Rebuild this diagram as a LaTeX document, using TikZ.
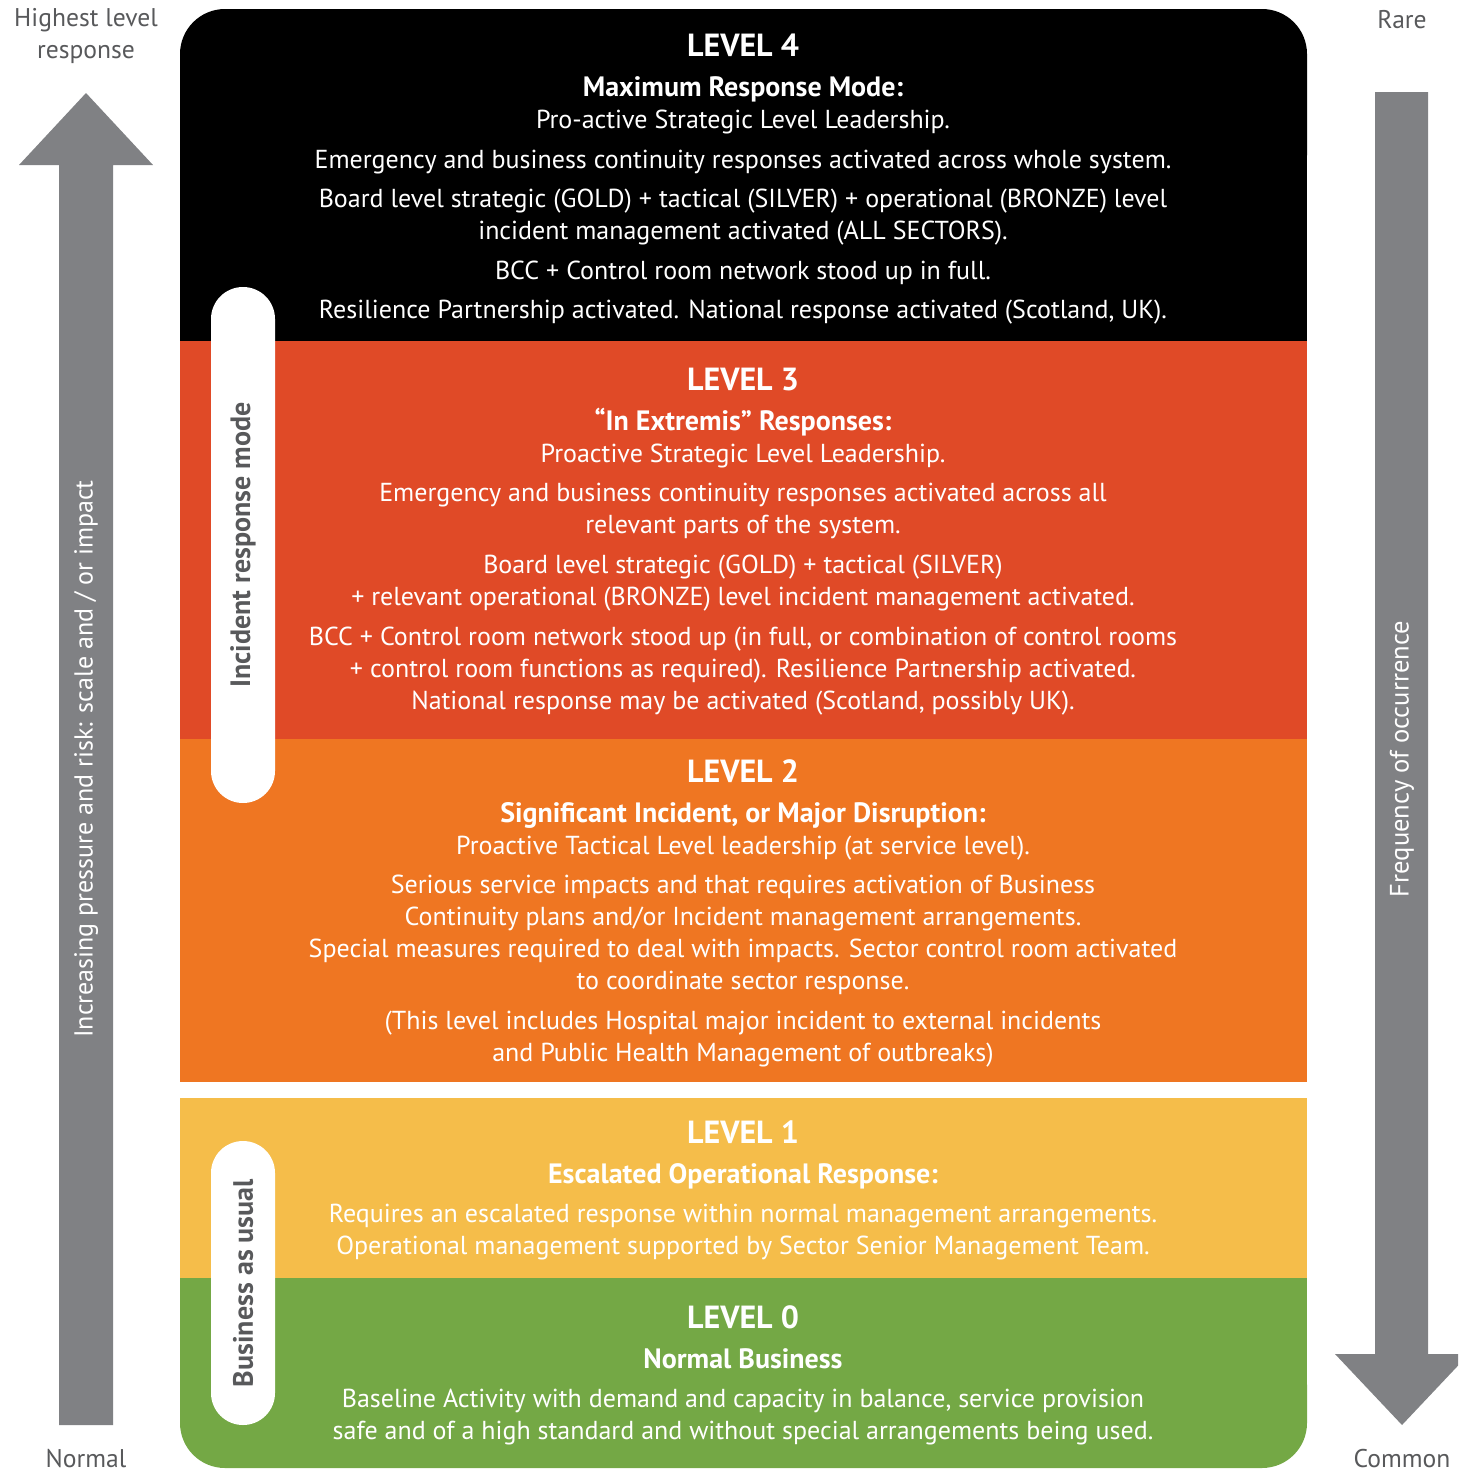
\documentclass[tikz,border=0pt]{standalone}
\usepackage{fontspec}
\setmainfont{PT Sans}
\definecolor{lvfour}{HTML}{000000}
\definecolor{lvthree}{HTML}{E04A27}
\definecolor{lvtwo}{HTML}{EF7622}
\definecolor{lvone}{HTML}{F5BD4A}
\definecolor{lvzero}{HTML}{74A845}
\definecolor{arrowgray}{HTML}{808184}
\definecolor{labelgray}{HTML}{58595B}
\begin{document}
\begin{tikzpicture}[x=0.5pt,y=-0.5pt,
  body/.style={anchor=base,inner sep=0pt,text=white,font=\fontsize{13}{15}\selectfont},
  head/.style={anchor=base,inner sep=0pt,text=white,font=\fontsize{16}{18}\selectfont\bfseries},
  sub/.style={anchor=base,inner sep=0pt,text=white,font=\fontsize{14}{16}\selectfont\bfseries},
  side/.style={inner sep=0pt,text=labelgray,font=\fontsize{12.8}{16}\selectfont,align=center},
  pill/.style={fill=white,rounded corners=16pt,minimum height=32pt,inner sep=0pt,text=labelgray,font=\fontsize{14}{16}\selectfont\bfseries},
  bigarrow/.style={fill=arrowgray}]
\useasboundingbox (0,0) rectangle (1458,1472);
% level bands
\fill[lvfour,rounded corners=22.5pt] (180,9) rectangle (1307,200);
\fill[lvfour] (180,120) rectangle (1307,341);
\fill[lvthree] (180,341) rectangle (1307,739);
\fill[lvtwo] (180,739) rectangle (1307,1082);
\fill[lvone] (180,1098) rectangle (1307,1278);
\fill[lvzero,rounded corners=22.5pt] (180,1340) rectangle (1307,1468);
\fill[lvzero] (180,1278) rectangle (1307,1400);
% arrows
\begin{scope}
\clip (0,0) rectangle (1458,1472);
\fill[bigarrow] (59,1425) -- (59,165) -- (19,165) -- (86,93) -- (153,165) -- (113,165) -- (113,1425) -- cycle;
\fill[bigarrow] (1375,92) -- (1375,1354) -- (1335,1354) -- (1402,1425) -- (1469,1354) -- (1428,1354) -- (1428,92) -- cycle;
\end{scope}
\node[side] (hi) at (86,36) {Highest level\\response};
\node[side,anchor=base] (rare) at (1402,28) {Rare};
\node[side,anchor=base] (normal) at (86,1467) {Normal};
\node[side,anchor=base] (common) at (1402,1467) {Common};
\node[side,text=white,rotate=90,font=\fontsize{13}{16}\selectfont] (lefttxt) at (86,759) {Increasing pressure and risk: scale and / or impact};
\node[side,text=white,rotate=90,font=\fontsize{13.3}{16}\selectfont] (righttxt) at (1402,759) {Frequency of occurrence};
% pills
\node[pill,rotate=90,minimum width=258pt] (irm) at (243,545) {Incident response mode};
\node[pill,rotate=90,minimum width=142pt] (bau) at (243,1283) {Business as usual};
% Level 4
\node[head] (l4h) at (743,56) {LEVEL 4};
\node[sub] (l4s) at (743,96) {Maximum Response Mode:};
\node[body] (l4a) at (743,128) {Pro-active Strategic Level Leadership.};
\node[body] (l4b) at (743,168) {Emergency and business continuity responses activated across whole system.};
\node[body] (l4c) at (743,207) {Board level strategic (GOLD) + tactical (SILVER) + operational (BRONZE) level};
\node[body] (l4d) at (743,239) {incident management activated (ALL SECTORS).};
\node[body] (l4e) at (743,279) {BCC + Control room network stood up in full.};
\node[body] (l4f) at (743,318) {Resilience Partnership activated. National response activated (Scotland, UK).};
% Level 3
\node[head] (l3h) at (743,390) {LEVEL 3};
\node[sub] (l3s) at (743,430) {“In Extremis” Responses:};
\node[body] (l3a) at (743,462) {Proactive Strategic Level Leadership.};
\node[body] (l3b) at (743,501) {Emergency and business continuity responses activated across all};
\node[body] (l3c) at (743,533) {relevant parts of the system.};
\node[body] (l3d) at (743,573) {Board level strategic (GOLD) + tactical (SILVER)};
\node[body] (l3e) at (743,605) {+ relevant operational (BRONZE) level incident management activated.};
\node[body] (l3f) at (743,645) {BCC + Control room network stood up (in full, or combination of control rooms};
\node[body] (l3g) at (743,677) {+ control room functions as required). Resilience Partnership activated.};
\node[body] (l3i) at (743,709) {National response may be activated (Scotland, possibly UK).};
% Level 2
\node[head] (l2h) at (743,782) {LEVEL 2};
\node[sub] (l2s) at (743,822) {Significant Incident, or Major Disruption:};
\node[body] (l2a) at (743,854) {Proactive Tactical Level leadership (at service level).};
\node[body] (l2b) at (743,893) {Serious service impacts and that requires activation of Business};
\node[body] (l2c) at (743,925) {Continuity plans and/or Incident management arrangements.};
\node[body] (l2d) at (743,957) {Special measures required to deal with impacts. Sector control room activated};
\node[body] (l2e) at (743,989) {to coordinate sector response.};
\node[body] (l2f) at (743,1029) {(This level includes Hospital major incident to external incidents};
\node[body] (l2g) at (743,1061) {and Public Health Management of outbreaks)};
% Level 1
\node[head] (l1h) at (743,1143) {LEVEL 1};
\node[sub] (l1s) at (743,1183) {Escalated Operational Response:};
\node[body] (l1a) at (743,1222) {Requires an escalated response within normal management arrangements.};
\node[body] (l1b) at (743,1254) {Operational management supported by Sector Senior Management Team.};
% Level 0
\node[head] (l0h) at (743,1328) {LEVEL 0};
\node[sub] (l0s) at (743,1368) {Normal Business};
\node[body] (l0a) at (743,1407) {Baseline Activity with demand and capacity in balance, service provision};
\node[body] (l0b) at (743,1439) {safe and of a high standard and without special arrangements being used.};
\end{tikzpicture}
\end{document}
